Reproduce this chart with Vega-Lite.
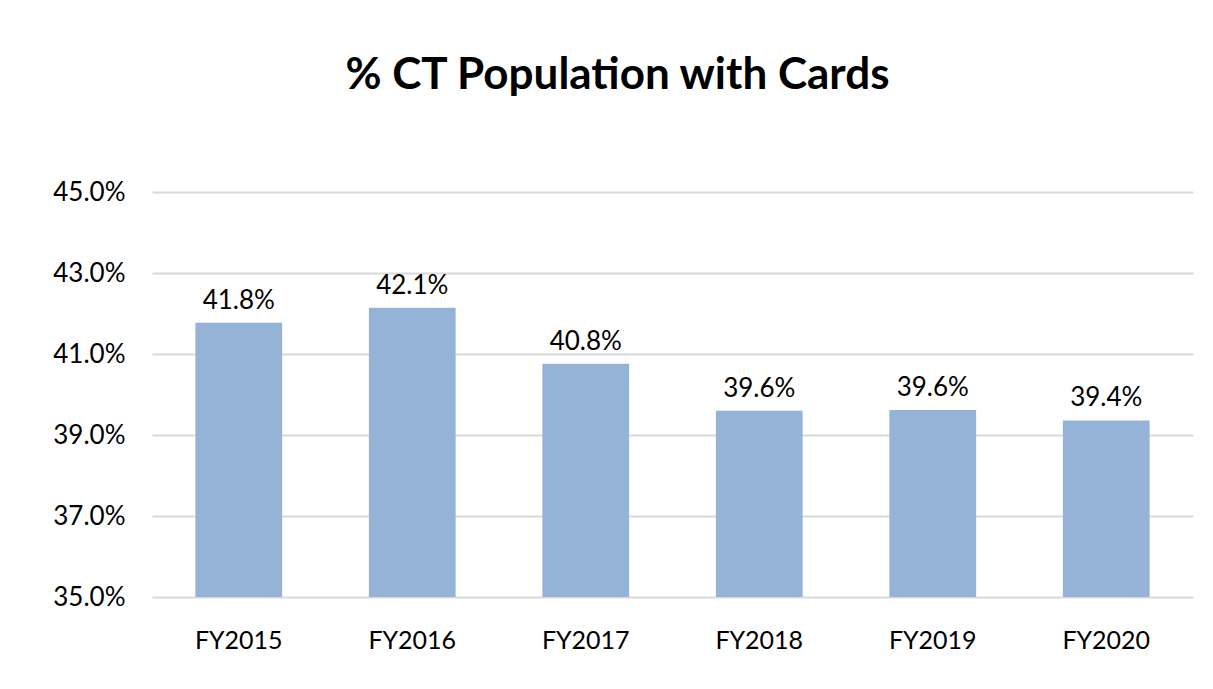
{
  "$schema": "https://vega.github.io/schema/vega-lite/v6.json",
  "width": 1041,
  "height": 405,
  "autosize": {"type": "none"},
  "padding": {"left": 152, "top": 192, "right": 20, "bottom": 92},
  "background": "white",
  "title": {
    "text": "% CT Population with Cards",
    "font": "Lato",
    "fontSize": 44,
    "fontWeight": "bold",
    "color": "black",
    "anchor": "middle",
    "dx": -55,
    "offset": 81
  },
  "config": {
    "view": {"stroke": null},
    "font": "Lato"
  },
  "data": {
    "values": [
      {"year": "FY2015", "pct": 0.4177},
      {"year": "FY2016", "pct": 0.4214},
      {"year": "FY2017", "pct": 0.4076},
      {"year": "FY2018", "pct": 0.3960},
      {"year": "FY2019", "pct": 0.3962},
      {"year": "FY2020", "pct": 0.3936}
    ]
  },
  "encoding": {
    "x": {
      "field": "year",
      "type": "nominal",
      "sort": null,
      "scale": {"paddingInner": 0.5, "paddingOuter": 0.25},
      "axis": {
        "title": null,
        "labelAngle": 0,
        "labelFont": "Lato",
        "labelFontSize": 25,
        "labelColor": "black",
        "labelPadding": 31,
        "ticks": false,
        "domain": false,
        "grid": false
      }
    },
    "y": {
      "field": "pct",
      "type": "quantitative",
      "scale": {"domain": [0.35, 0.45], "zero": false, "nice": false},
      "axis": {
        "title": null,
        "values": [0.35, 0.37, 0.39, 0.41, 0.43, 0.45],
        "format": ".1%",
        "labelFont": "Lato",
        "labelFontSize": 26,
        "labelColor": "black",
        "labelPadding": 27,
        "ticks": false,
        "domain": false,
        "grid": true,
        "gridColor": "#D9D9D9",
        "gridWidth": 2
      }
    }
  },
  "layer": [
    {
      "mark": {"type": "bar", "color": "#95B3D7"},
      "encoding": {"y2": {"datum": 0.35}}
    },
    {
      "mark": {"type": "text", "baseline": "alphabetic", "dy": -14, "fontSize": 26, "font": "Lato", "color": "black"},
      "encoding": {"text": {"field": "pct", "type": "quantitative", "format": ".1%"}}
    }
  ]
}
